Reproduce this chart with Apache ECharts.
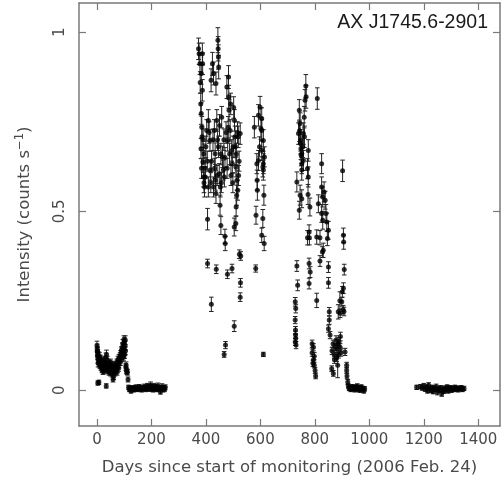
<!DOCTYPE html>
<html><head><meta charset="utf-8">
<script src="https://cdn.jsdelivr.net/npm/echarts@6/dist/echarts.min.js"></script>
<style>html,body{margin:0;padding:0;background:#fff}#c{width:501px;height:486px}</style>
</head><body><div id="c"></div>
<script>
const title = 'AX J1745.6-2901';
const xName = 'Days since start of monitoring (2006 Feb. 24)';
const xTicks = [0, 200, 400, 600, 800, 1000, 1200, 1400];
const yTicks = [0, 0.5, 1];

// [day, rate, error]
const early = [
[0,0.125,0.012],[1,0.118,0.011],[2,0.11,0.011],[3,0.103,0.01],[2,0.095,0.01],[4,0.088,0.01],[5,0.098,0.01],[6,0.082,0.01],
[3,0.02,0.006],[7,0.022,0.006],[8,0.075,0.01],[10,0.085,0.01],[11,0.07,0.009],[13,0.078,0.009],[14,0.065,0.009],[16,0.072,0.009],
[18,0.06,0.009],[19,0.058,0.009],[21,0.068,0.009],[23,0.075,0.009],[25,0.062,0.009],[27,0.055,0.009],[29,0.07,0.009],[31,0.08,0.01],
[33,0.092,0.012],[35,0.1,0.012],[34,0.012,0.006],[37,0.072,0.009],[39,0.062,0.009],[41,0.055,0.009],[43,0.068,0.009],[45,0.075,0.009],
[47,0.058,0.009],[49,0.048,0.008],[51,0.062,0.009],[53,0.07,0.009],[55,0.045,0.008],[57,0.052,0.008],[59,0.03,0.007],[61,0.038,0.008],
[63,0.055,0.008],[65,0.062,0.009],[67,0.048,0.008],[69,0.07,0.009],[71,0.065,0.009],[73,0.078,0.009],[75,0.06,0.009],[77,0.085,0.01],
[79,0.072,0.009],[81,0.09,0.01],[83,0.08,0.01],[85,0.095,0.01],[87,0.1,0.011],[89,0.11,0.011],[91,0.105,0.011],[93,0.12,0.012],
[95,0.13,0.012],[97,0.115,0.012],[99,0.14,0.012],[101,0.135,0.012],[103,0.125,0.012],[105,0.11,0.011],[98,0.092,0.01],[102,0.1,0.011],
[106,0.065,0.009],[108,0.055,0.008],[110,0.052,0.008],[112,0.05,0.008],[114,0.03,0.007],
[1,0.108,0.011],[4,0.075,0.01],[9,0.095,0.01],[12,0.088,0.01],[17,0.082,0.01],[22,0.052,0.008],[26,0.085,0.01],[30,0.058,0.009],
[38,0.085,0.01],[44,0.05,0.008],[50,0.078,0.009],[56,0.065,0.009],[62,0.072,0.009],[68,0.058,0.009],[74,0.05,0.008],[80,0.062,0.009],
[86,0.078,0.009],[92,0.09,0.01],[96,0.1,0.011],[100,0.118,0.012],[104,0.14,0.012],[107,0.07,0.009]
];
const quiet1 = [
[116,0.008,0.006],[119,0.002,0.006],[122,0.006,0.006],[125,-0.002,0.006],[128,0.004,0.006],[131,0.007,0.006],[134,0.001,0.006],
[137,0.005,0.006],[140,0.003,0.006],[143,0.008,0.007],[146,0.002,0.006],[149,0.006,0.006],[152,0.004,0.006],[155,0.009,0.007],
[158,0.003,0.006],[161,0.006,0.006],[164,0.001,0.006],[167,0.007,0.006],[170,0.004,0.006],[173,0.01,0.007],[176,0.005,0.006],
[179,0.002,0.006],[182,0.008,0.007],[185,0.012,0.007],[188,0.006,0.007],[191,0.003,0.006],[194,0.009,0.007],[197,0.014,0.009],
[200,0.004,0.007],[203,0.008,0.007],[206,0.001,0.006],[209,0.011,0.008],[212,0.005,0.007],[215,0.009,0.007],[218,0.002,0.006],
[221,0.006,0.007],[224,0.012,0.008],[227,0.003,0.007],[230,0.007,0.007],[233,-0.004,0.007],[236,0.005,0.007],[239,0.01,0.008],
[242,0.002,0.007],[245,0.006,0.007],[248,0.003,0.007],[251,0.008,0.007]
];
const burst1 = [
[373,0.954,0.03],[375,0.94,0.03],[378,0.912,0.03],[387,0.94,0.03],[388,0.912,0.03],[383,0.885,0.03],[387,0.838,0.03],[383,0.773,0.03],
[385,0.735,0.03],[386,0.708,0.03],[382,0.675,0.028],[389,0.638,0.028],[391,0.596,0.028],[395,0.568,0.028],[392,0.66,0.028],[397,0.62,0.028],
[403,0.726,0.03],[409,0.754,0.03],[415,0.698,0.03],[416,0.615,0.028],[419,0.866,0.032],[424,0.912,0.032],[428,0.885,0.032],[431,0.726,0.03],
[434,0.661,0.03],[435,0.587,0.028],[437,0.857,0.032],[444,0.978,0.035],[445,0.954,0.034],[446,0.931,0.034],[447,0.903,0.033],[440,0.754,0.03],
[446,0.68,0.03],[449,0.605,0.028],[452,0.517,0.028],[458,0.763,0.03],[461,0.652,0.03],[464,0.615,0.028],[468,0.596,0.028],[477,0.847,0.032],
[483,0.875,0.032],[484,0.82,0.032],[485,0.782,0.03],[482,0.735,0.03],[480,0.698,0.03],[489,0.726,0.03],[495,0.67,0.03],[497,0.633,0.028],
[505,0.754,0.03],[507,0.708,0.03],[510,0.624,0.028],[514,0.587,0.028],[517,0.559,0.028],[519,0.708,0.03],[526,0.717,0.03],[513,0.545,0.028],
[453,0.568,0.028],[409,0.568,0.028],[398,0.596,0.028],[428,0.568,0.028],[437,0.55,0.028],[421,0.64,0.028],[426,0.7,0.03],[455,0.66,0.03],
[470,0.65,0.028],[474,0.72,0.03],[492,0.6,0.028],[500,0.68,0.03],[502,0.79,0.03],[512,0.66,0.03],[522,0.64,0.028],
[379,0.86,0.03],[381,0.8,0.03],[384,0.62,0.028],[390,0.7,0.03],[393,0.58,0.028],[400,0.68,0.03],[405,0.64,0.028],[412,0.72,0.03],
[418,0.58,0.028],[432,0.62,0.028],[441,0.6,0.028],[443,0.7,0.03],[450,0.74,0.03],[457,0.58,0.028],[466,0.7,0.03],[478,0.62,0.028],
[487,0.66,0.03],[491,0.8,0.03],[499,0.58,0.028],[508,0.68,0.03],[516,0.72,0.03],[520,0.6,0.028],
[406,0.478,0.03],[406,0.354,0.012],[420,0.24,0.02],[438,0.338,0.012],[455,0.46,0.025],[470,0.43,0.02],[471,0.41,0.02],[479,0.324,0.012],
[496,0.34,0.012],[504,0.456,0.025],[510,0.466,0.02],[511,0.512,0.025],[504,0.179,0.015],[472,0.126,0.01],[467,0.10,0.008],[523,0.38,0.012],
[528,0.375,0.012],[527,0.30,0.012],[526,0.26,0.012],
[578,0.735,0.03],[584,0.489,0.025],[583,0.34,0.01],[588,0.587,0.028],[589,0.559,0.028],[587,0.633,0.028],[593,0.642,0.028],[593,0.768,0.03],
[597,0.68,0.028],[599,0.791,0.03],[602,0.731,0.03],[605,0.759,0.03],[605,0.726,0.03],[605,0.67,0.028],[605,0.433,0.02],[609,0.624,0.028],
[609,0.48,0.025],[611,0.698,0.03],[611,0.633,0.028],[611,0.615,0.028],[613,0.545,0.028],[614,0.41,0.02],[615,0.652,0.028],[611,0.10,0.006]
];
const burst2 = [
[734,0.582,0.028],[740,0.717,0.03],[743,0.782,0.03],[744,0.725,0.03],[746,0.745,0.03],[747,0.69,0.03],[748,0.698,0.03],[749,0.675,0.03],
[750,0.655,0.028],[752,0.661,0.028],[752,0.633,0.028],[756,0.68,0.03],[758,0.717,0.03],[761,0.763,0.03],[762,0.708,0.03],[764,0.81,0.03],
[767,0.85,0.032],[768,0.82,0.032],[746,0.545,0.028],[743,0.503,0.025],[758,0.642,0.028],[752,0.615,0.028],[752,0.535,0.025],[776,0.67,0.03],
[773,0.619,0.028],[776,0.596,0.028],[775,0.547,0.028],[782,0.512,0.025],[780,0.426,0.02],[773,0.426,0.02],[779,0.442,0.02],[809,0.815,0.03],
[813,0.521,0.025],[819,0.426,0.02],[825,0.633,0.028],[825,0.568,0.028],[829,0.54,0.028],[834,0.554,0.028],[838,0.531,0.025],[841,0.494,0.025],
[844,0.47,0.025],[825,0.494,0.025],[829,0.475,0.025],[850,0.447,0.025],[846,0.424,0.02],[831,0.391,0.02],[902,0.613,0.03],[905,0.433,0.02],
[906,0.414,0.02],[807,0.428,0.02],
[734,0.347,0.015],[737,0.293,0.015],[728,0.247,0.012],[730,0.228,0.012],[728,0.196,0.01],[729,0.168,0.01],[729,0.155,0.01],[730,0.145,0.01],
[728,0.135,0.01],[731,0.126,0.01],[779,0.354,0.015],[783,0.33,0.015],[779,0.298,0.015],[807,0.251,0.02],[819,0.361,0.015],[828,0.386,0.015],
[850,0.344,0.015],[850,0.30,0.015],[908,0.337,0.015],[905,0.285,0.015],[901,0.275,0.015],[899,0.247,0.012],[907,0.22,0.012],[893,0.215,0.012],
[904,0.225,0.012],[853,0.219,0.012],[853,0.196,0.012],[850,0.172,0.01],[856,0.154,0.01],[886,0.219,0.02],[892,0.25,0.025],[884,0.07,0.035],
[790,0.13,0.01],[795,0.12,0.01],[790,0.105,0.01],[798,0.095,0.01],[795,0.085,0.009],[798,0.07,0.008],[801,0.055,0.008],[803,0.04,0.008],
[793,0.075,0.009],[863,0.11,0.01],[867,0.13,0.01],[871,0.1,0.01],[874,0.12,0.01],[878,0.14,0.012],[880,0.09,0.01],[882,0.115,0.01],
[885,0.13,0.012],[887,0.1,0.01],[889,0.135,0.012],[893,0.12,0.01],[894,0.15,0.012],[896,0.105,0.01],[872,0.085,0.01],[862,0.06,0.008],
[868,0.047,0.008],[911,0.107,0.01],[917,0.07,0.008],[917,0.055,0.008],[918,0.04,0.008],[921,0.023,0.007]
];
const quiet2 = [
[923,0.012,0.006],[926,0.005,0.006],[929,0.008,0.006],[932,0.002,0.006],[935,0.006,0.006],[938,0.01,0.006],[941,0.004,0.006],
[944,0.007,0.006],[947,0.001,0.006],[950,0.009,0.006],[953,0.005,0.006],[956,0.011,0.007],[959,0.003,0.006],[962,0.007,0.006],
[965,0.0,0.006],[968,0.006,0.006],[971,0.009,0.006],[974,0.002,0.006],[977,0.005,0.006],[980,-0.002,0.006],[983,0.004,0.006]
];
const late = [
[1174,0.008,0.006],[1188,0.01,0.006],[1194,0.006,0.006],[1200,0.012,0.007],[1205,0.003,0.006],[1210,0.009,0.006],[1214,-0.002,0.006],
[1218,0.014,0.007],[1222,0.005,0.006],[1226,0.0,0.006],[1230,0.008,0.006],[1234,-0.004,0.006],[1238,0.006,0.006],[1242,0.002,0.006],
[1246,0.01,0.007],[1250,-0.006,0.007],[1254,0.004,0.006],[1258,0.0,0.006],[1262,0.007,0.006],[1266,-0.01,0.007],[1270,0.003,0.006],
[1274,-0.003,0.006],[1278,0.006,0.006],[1282,0.001,0.006],[1286,0.009,0.006],[1290,-0.002,0.006],[1294,0.004,0.006],[1298,0.007,0.006],
[1302,0.0,0.006],[1306,0.005,0.006],[1310,0.002,0.006],[1314,0.008,0.006],[1318,0.003,0.006],[1322,0.006,0.006],[1326,0.001,0.006],
[1330,0.005,0.006],[1334,0.004,0.006],[1338,0.007,0.006],[1342,0.002,0.006],[1348,0.005,0.006]
];

const allPoints = [].concat(early, quiet1, burst1, burst2, quiet2, late);

const axisColor = '#7a7a7a';
const textColor = '#4a4a4a';
const font = 'DejaVu Sans';

function axisBase(extra) {
  return Object.assign({
    type: 'value',
    axisLine: {show: true, onZero: false, lineStyle: {color: axisColor, width: 1.5}},
    splitLine: {show: false}
  }, extra);
}

const chart = echarts.init(document.getElementById('c'), null, {renderer: 'canvas'});
chart.setOption({
  animation: false,
  backgroundColor: '#fff',
  title: {
    text: title, right: 8, top: 8,
    textStyle: {fontFamily: 'Liberation Sans', fontSize: 19.5, fontWeight: 'normal', color: '#1a1a1a'}
  },
  grid: {left: 79, right: 1, top: 3, bottom: 60},
  xAxis: [axisBase({
    min: -66, max: 1480, position: 'bottom',
    name: xName, nameLocation: 'middle', nameGap: 33,
    nameTextStyle: {fontFamily: font, fontSize: 16.5, color: textColor},
    axisTick: {show: true, inside: true, length: 7, customValues: xTicks, lineStyle: {color: axisColor, width: 1.2}},
    axisLabel: {show: true, customValues: xTicks, margin: 7, fontFamily: font, fontSize: 15, color: textColor,
      formatter: v => String(v)}
  }), axisBase({
    min: -66, max: 1480, position: 'top',
    axisTick: {show: true, inside: true, length: 7, customValues: xTicks, lineStyle: {color: axisColor, width: 1.2}},
    axisLabel: {show: false}
  })],
  yAxis: [axisBase({
    min: -0.1, max: 1.082, position: 'left',
    name: '{a|Intensity (counts s}{b|−1}{a|)}', nameLocation: 'middle', nameGap: 43, nameRotate: 90,
    nameTextStyle: {rich: {
      a: {fontFamily: font, fontSize: 16.5, color: textColor},
      b: {fontFamily: font, fontSize: 11.5, color: textColor, verticalAlign: 'top', padding: [0,0,10,0]}
    }},
    axisTick: {show: true, inside: true, length: 7, customValues: yTicks, lineStyle: {color: axisColor, width: 1.2}},
    axisLabel: {show: true, customValues: yTicks, rotate: 90, align: 'center', verticalAlign: 'bottom', margin: 11,
      fontFamily: font, fontSize: 15, color: textColor, formatter: v => String(v)}
  }), axisBase({
    min: -0.1, max: 1.082, position: 'right',
    axisTick: {show: true, inside: true, length: 7, customValues: yTicks, lineStyle: {color: axisColor, width: 1.2}},
    axisLabel: {show: false}
  })],
  series: [{
    type: 'custom',
    xAxisIndex: 0, yAxisIndex: 0,
    clip: true,
    data: allPoints,
    encode: {x: 0, y: 1},
    renderItem: function (params, api) {
      const x = api.value(0), y = api.value(1), e = api.value(2);
      const lo = api.coord([x, y - e]);
      const hi = api.coord([x, y + e]);
      const hw = 2.3;
      const style = {stroke: '#222', lineWidth: 1};
      return {
        type: 'group',
        children: [
          {type: 'line', shape: {x1: lo[0], y1: lo[1], x2: hi[0], y2: hi[1]}, style: style},
          {type: 'line', shape: {x1: lo[0] - hw, y1: lo[1], x2: lo[0] + hw, y2: lo[1]}, style: style},
          {type: 'line', shape: {x1: hi[0] - hw, y1: hi[1], x2: hi[0] + hw, y2: hi[1]}, style: style}
        ]
      };
    },
    z: 2
  }, {
    type: 'scatter',
    xAxisIndex: 0, yAxisIndex: 0,
    data: allPoints.map(p => [p[0], p[1]]),
    symbol: 'circle', symbolSize: 5,
    itemStyle: {color: '#000'},
    z: 3
  }]
});
</script>
</body></html>
